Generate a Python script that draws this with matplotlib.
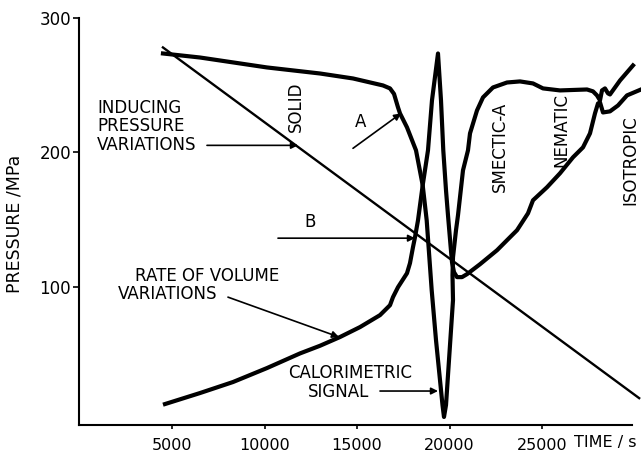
import numpy as np
import matplotlib
matplotlib.use("Agg")
import matplotlib.pyplot as plt

# inducing pressure (straight ramp down)
ramp_t = [4510, 30250]
ramp_p = [278.1, 17.0]

# calorimetric signal: upper baseline -> trough -> smectic / nematic / isotropic
cal_t = [4513, 6513, 10134, 12999, 14783, 16404, 16783, 17000, 17215, 17323,
         17701, 18188, 18550, 18766, 19036, 19269, 19485, 19620, 19701,
         19810, 19972, 20188, 20161, 20188, 20350, 20458, 20728, 20998, 21107,
         21485, 21809, 22349, 23106, 23809, 24511, 25052, 25971, 27430, 27754,
         27970, 28133, 28241, 28403, 28565, 28673, 29214, 29916]
cal_p = [273.6, 270.6, 263.2, 258.7, 255.0, 249.8, 247.6, 243.5, 233.5, 229.0,
         218.6, 201.5, 175.5, 149.4, 97.4, 60.2, 30.5, 11.9, 3.0,
         11.9, 45.4, 90.0, 108.6, 121.9, 142.0, 153.2, 186.6, 201.5, 214.1,
         231.2, 240.9, 248.3, 252.0, 252.8, 251.3, 247.6, 246.1, 246.8, 245.4,
         242.4, 238.7, 246.1, 247.6, 243.9, 243.1, 253.5, 264.7]

# rate of volume variations: lower branch -> peak -> smectic minimum -> nematic
vol_t = [4621, 6513, 8297, 10134, 11918, 12999, 14080, 15161, 16242, 16783,
         16944, 17215, 17701, 17863, 18025, 18134, 18296, 18550, 18836, 19052,
         19377, 19539, 19663, 19810, 19917, 20053, 20134, 20242, 20404, 20674,
         20944, 21647, 22566, 23268, 23647, 24241, 24511, 25268, 25971, 26674,
         27214, 27592, 27862, 28024, 28133, 28295, 28673, 29106, 29592, 30349]
vol_p = [12.6, 20.8, 29.0, 39.4, 50.3, 56.0, 62.5, 69.9, 78.8, 86.2,
         92.2, 99.6, 110.0, 117.5, 129.4, 136.8, 149.4, 175.5, 201.5, 238.7,
         273.6, 238.7, 201.5, 171.7, 153.2, 130.9, 118.2, 110.8, 107.1, 107.1,
         109.3, 116.7, 127.1, 136.8, 142.0, 154.6, 164.3, 174.0, 184.4, 196.3,
         203.7, 214.1, 229.0, 236.4, 237.2, 229.7, 230.5, 234.9, 242.4, 246.8]

xticks = [5000, 10000, 15000, 20000, 25000]
yticks = [100, 200, 300]

fig = plt.figure(figsize=(6.41, 4.55), dpi=100)
ax = fig.add_axes([0.124, 0.0659, 0.876, 0.8945])

ax.plot(ramp_t, ramp_p, color='black', lw=1.7)
ax.plot(cal_t, cal_p, color='black', lw=3.0, solid_joinstyle='round')
ax.plot(vol_t, vol_p, color='black', lw=3.0, solid_joinstyle='round')

ax.set_xlim(0, 30349)
ax.set_ylim(-3, 300)
ax.spines['top'].set_visible(False)
ax.spines['right'].set_visible(False)
ax.spines['left'].set_linewidth(1.5)
ax.spines['bottom'].set_linewidth(1.5)
ax.spines['bottom'].set_bounds(0, 29860)

ax.set_xticks(xticks)
ax.set_xticklabels([str(v) for v in xticks], fontsize=11.5)
ax.set_yticks(yticks)
ax.set_yticklabels([str(v) for v in yticks], fontsize=12)
ax.tick_params(axis='x', length=3, width=1.2, pad=6)
ax.tick_params(axis='y', length=4, width=1.2, pad=2)

fig.text(15 / 641, 1 - 224 / 455, 'PRESSURE /MPa', rotation=90,
         ha='center', va='center', fontsize=12.5)
fig.text(637 / 641, 1 - 443 / 455, 'TIME / s', ha='right', va='center',
         fontsize=11.5)

fs = 12
arrow = dict(arrowstyle='-|>', color='black', lw=1.2, mutation_scale=10,
             shrinkA=0, shrinkB=0)

# inducing pressure label
ax.text(946, 232.7, 'INDUCING', fontsize=fs, ha='left', va='center')
ax.text(946, 219.3, 'PRESSURE', fontsize=fs, ha='left', va='center')
ax.text(946, 205.2, 'VARIATIONS', fontsize=fs, ha='left', va='center')
ax.annotate('', xy=(11810, 205.2), xytext=(6891, 205.2), arrowprops=arrow)

# rate of volume label
ax.text(3000, 107.8, 'RATE OF VOLUME', fontsize=fs, ha='left', va='center')
ax.text(2081, 94.4, 'VARIATIONS', fontsize=fs, ha='left', va='center')
ax.annotate('', xy=(14026, 62.5), xytext=(8026, 92.2), arrowprops=arrow)

# calorimetric label
ax.text(11269, 35.7, 'CALORIMETRIC', fontsize=fs, ha='left', va='center')
ax.text(12350, 21.6, 'SIGNAL', fontsize=fs, ha='left', va='center')
ax.annotate('', xy=(19377, 22.3), xytext=(16242, 22.3), arrowprops=arrow)

# A and B markers
ax.text(15215, 222.3, 'A', fontsize=fs, ha='center', va='center')
ax.annotate('', xy=(17377, 229.0), xytext=(14783, 203.0), arrowprops=arrow)
ax.text(12458, 148.0, 'B', fontsize=fs, ha='center', va='center')
ax.annotate('', xy=(18134, 136.1), xytext=(10729, 136.1), arrowprops=arrow)

# phase names
ax.text(11702, 234.2, 'SOLID', rotation=90, fontsize=fs, ha='center', va='center')
ax.text(22728, 203.7, 'SMECTIC-A', rotation=90, fontsize=fs, ha='center', va='center')
ax.text(26025, 216.4, 'NEMATIC', rotation=90, fontsize=fs, ha='center', va='center')
ax.text(29780, 194.1, 'ISOTROPIC', rotation=90, fontsize=fs, ha='center',
        va='center')

fig.savefig('out.png', dpi=100)
